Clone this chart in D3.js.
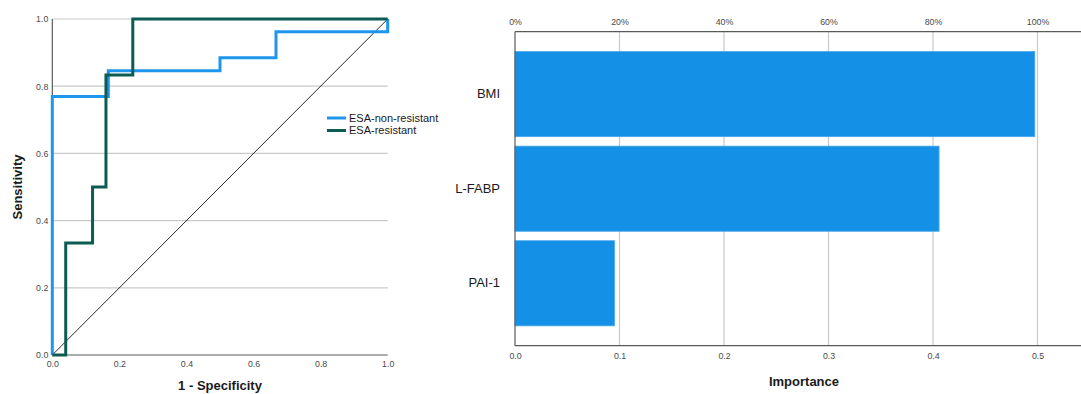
<!DOCTYPE html>
<html>
<head>
<meta charset="utf-8">
<script src="https://cdn.jsdelivr.net/npm/d3@7"></script>
<style>
  html, body { margin: 0; padding: 0; background: #fff; overflow: hidden; }
  svg { display: block; font-family: "Liberation Sans", Arial, Helvetica, sans-serif; }
</style>
</head>
<body>
<svg id="chart" width="1081" height="394"></svg>
<script>
// ---------- Data ----------
const rocSeries = ["ESA-non-resistant", "ESA-resistant"];
const rocColors = ["#1E96EE", "#0D5C52"];
// ROC corner points (1 - specificity, sensitivity)
const nonResistantFPR = [0, 0, 0.167, 0.5, 0.667, 1];
const nonResistantTPR = [0, 0.769, 0.846, 0.885, 0.962, 1];
const resistantFPR = [0, 0.04, 0.12, 0.16, 0.24, 1];
const resistantTPR = [0, 0.333, 0.5, 0.833, 1, 1];
const rocTicks = [0, 0.2, 0.4, 0.6, 0.8, 1.0];

const features = ["BMI", "L-FABP", "PAI-1"];
const importance = [0.4974, 0.4058, 0.0952];
const importanceTicks = [0, 0.1, 0.2, 0.3, 0.4, 0.5];
const percentTickLabels = ["0%", "20%", "40%", "60%", "80%", "100%"];

// ---------- Setup ----------
const svg = d3.select("#chart");
const gridColor = "#c9c9c9";
const axisColor = "#5a5a5a";
const tickColor = "#4a4a4a";

// ---------- ROC chart ----------
const rx = d3.scaleLinear().domain([0, 1]).range([52.3, 387.7]);
const ry = d3.scaleLinear().domain([0, 1]).range([355, 19]);
const roc = svg.append("g");

// horizontal gridlines
roc.selectAll("line.hgrid").data(rocTicks.filter(d => d > 0)).join("line")
  .attr("x1", rx(0)).attr("x2", rx(1))
  .attr("y1", d => ry(d)).attr("y2", d => ry(d))
  .attr("stroke", gridColor).attr("stroke-width", 1.2);

// axes lines
roc.append("line").attr("x1", rx(0)).attr("x2", rx(0)).attr("y1", ry(0)).attr("y2", ry(1))
  .attr("stroke", axisColor).attr("stroke-width", 1.2);
roc.append("line").attr("x1", rx(0)).attr("x2", rx(1)).attr("y1", ry(0)).attr("y2", ry(0))
  .attr("stroke", axisColor).attr("stroke-width", 1.2);

// tick labels via d3 axes (no domain/ticks drawn)
const rocYAxis = roc.append("g").attr("transform", `translate(${rx(0)},0)`)
  .call(d3.axisLeft(ry).tickValues(rocTicks).tickFormat(d3.format(".1f")).tickSize(0).tickPadding(4));
const rocXAxis = roc.append("g").attr("transform", `translate(0,${ry(0)})`)
  .call(d3.axisBottom(rx).tickValues(rocTicks).tickFormat(d3.format(".1f")).tickSize(0).tickPadding(6));
[rocYAxis, rocXAxis].forEach(a => {
  a.select(".domain").remove();
  a.selectAll("text").attr("fill", tickColor).style("font-size", "8.8px");
});

// diagonal reference
roc.append("line").attr("x1", rx(0)).attr("y1", ry(0)).attr("x2", rx(1)).attr("y2", ry(1))
  .attr("stroke", "#111").attr("stroke-width", 0.9);

// ROC curves
const stepLine = d3.line().x(d => rx(d[0])).y(d => ry(d[1])).curve(d3.curveStepAfter);
const rocData = [
  d3.zip(nonResistantFPR, nonResistantTPR),
  d3.zip(resistantFPR, resistantTPR)
];
roc.selectAll("path.curve").data(rocData).join("path")
  .attr("class", "curve")
  .attr("d", stepLine)
  .attr("fill", "none")
  .attr("stroke", (d, i) => rocColors[i])
  .attr("stroke-width", 3)
  .attr("stroke-linejoin", "miter");

// legend
const legend = roc.append("g").attr("transform", "translate(327,118)");
const li = legend.selectAll("g").data(rocSeries).join("g")
  .attr("transform", (d, i) => `translate(0,${i * 12.5})`);
li.append("line").attr("x1", 0).attr("x2", 19).attr("y1", 0).attr("y2", 0)
  .attr("stroke", (d, i) => rocColors[i]).attr("stroke-width", 3);
li.append("text").attr("x", 22).attr("y", 0).attr("dy", "0.35em")
  .style("font-size", "11px").attr("fill", "#1a1a1a").text(d => d);

// axis titles
roc.append("text")
  .attr("transform", `translate(22,${(ry(0) + ry(1)) / 2}) rotate(-90)`)
  .attr("text-anchor", "middle")
  .style("font-size", "13px").style("font-weight", "bold").attr("fill", "#1a1a1a")
  .text("Sensitivity");
roc.append("text")
  .attr("x", (rx(0) + rx(1)) / 2).attr("y", 390)
  .attr("text-anchor", "middle")
  .style("font-size", "13px").style("font-weight", "bold").attr("fill", "#1a1a1a")
  .text("1 - Specificity");

// ---------- Importance bar chart ----------
const bx = d3.scaleLinear().domain([0, 0.5]).range([515, 1037.5]);
const plotRight = 1093;
const by = d3.scaleBand().domain(features).range([31.7, 345.7]).paddingInner(0.1).paddingOuter(0.21);
const topScale = d3.scaleLinear().domain([0, 1]).range([bx(0), bx(0.5)]);
const bar = svg.append("g");

// vertical gridlines
bar.selectAll("line.vgrid").data(importanceTicks.filter(d => d > 0)).join("line")
  .attr("x1", d => bx(d)).attr("x2", d => bx(d))
  .attr("y1", by.range()[0]).attr("y2", by.range()[1])
  .attr("stroke", gridColor).attr("stroke-width", 1.2);

// bars
bar.selectAll("rect.bar").data(features).join("rect")
  .attr("x", bx(0))
  .attr("y", d => by(d))
  .attr("width", (d, i) => bx(importance[i]) - bx(0))
  .attr("height", by.bandwidth())
  .attr("fill", "#1490E6")
  .attr("stroke", "#4AA8EE").attr("stroke-width", 0.8);

// frame lines
bar.append("line").attr("x1", bx(0)).attr("x2", plotRight).attr("y1", by.range()[0]).attr("y2", by.range()[0])
  .attr("stroke", axisColor).attr("stroke-width", 1.2);
bar.append("line").attr("x1", bx(0)).attr("x2", plotRight).attr("y1", by.range()[1]).attr("y2", by.range()[1])
  .attr("stroke", axisColor).attr("stroke-width", 1.2);
bar.append("line").attr("x1", bx(0)).attr("x2", bx(0)).attr("y1", by.range()[0]).attr("y2", by.range()[1])
  .attr("stroke", axisColor).attr("stroke-width", 1.2);

// axes labels
const bBottom = bar.append("g").attr("transform", `translate(0,${by.range()[1]})`)
  .call(d3.axisBottom(bx).tickValues(importanceTicks).tickFormat(d3.format(".1f")).tickSize(0).tickPadding(7));
const bTop = bar.append("g").attr("transform", `translate(0,${by.range()[0]})`)
  .call(d3.axisTop(topScale).tickValues(d3.range(percentTickLabels.length).map(i => i / (percentTickLabels.length - 1)))
    .tickFormat((d, i) => percentTickLabels[i]).tickSize(0).tickPadding(7));
const bLeft = bar.append("g").attr("transform", `translate(${bx(0)},0)`)
  .call(d3.axisLeft(by).tickSize(0).tickPadding(15));
[bBottom, bTop, bLeft].forEach(a => a.select(".domain").remove());
[bBottom, bTop].forEach(a => a.selectAll("text").attr("fill", tickColor).style("font-size", "8.8px"));
bLeft.selectAll("text").attr("fill", "#1a1a1a").style("font-size", "13px");

bar.append("text")
  .attr("x", (bx(0) + plotRight) / 2).attr("y", 386)
  .attr("text-anchor", "middle")
  .style("font-size", "13px").style("font-weight", "bold").attr("fill", "#1a1a1a")
  .text("Importance");
</script>
</body>
</html>
